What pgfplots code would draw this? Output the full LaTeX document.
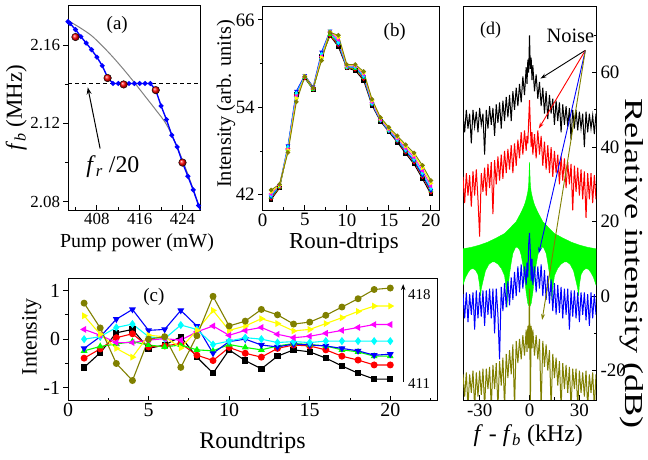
\documentclass[border=0pt]{standalone}
\usepackage{fontspec}
\setmainfont{Liberation Serif}
\usepackage{pgfplots}
\pgfplotsset{compat=1.18}
\usetikzlibrary{arrows.meta}
\definecolor{olivec}{RGB}{128,128,0}
\definecolor{mygreen}{RGB}{0,255,0}
\definecolor{mycyan}{RGB}{0,255,255}
\definecolor{mymag}{RGB}{255,0,255}
\definecolor{myyel}{RGB}{255,255,0}
\definecolor{myblue}{RGB}{0,0,255}
\definecolor{myred}{RGB}{255,0,0}
\newcommand{\fs}[1]{\fontsize{#1}{#1}\selectfont}
\pgfplotsset{
  base/.style={scale only axis, anchor=south west,
    axis line style={line width=0.9bp},
    xtick align=inside,
    xtick pos=bottom,
    major tick length=4.5bp, minor tick length=2.5bp,
    every tick/.style={black, line width=0.8bp},
    every minor tick/.style={black, line width=0.8bp}},
}
\begin{document}
\begin{tikzpicture}
\useasboundingbox (0,0) rectangle (648bp,460bp);
%================ (a)
\begin{axis}[base, at={(68bp,250bp)}, width=132.7bp, height=205bp,
  ytick pos=left, ytick align=outside,
  xmin=402.6, xmax=427.4, ymin=2.0757, ymax=2.1807,
  xtick={408,416,424}, xticklabels={408,416,424}, minor xtick={404,412,420},
  ytick={2.08,2.12,2.16}, yticklabels={2.08,2.12,2.16}, minor ytick={2.10,2.14},
  tick label style={font=\fs{17}},
  xlabel={Pump power (mW)},
  xlabel style={font=\fs{20}, at={(axis description cs:0.52,-0.16)}, anchor=center},
  ylabel={\textit{f}\textsubscript{\textit{b}} (MHz)},
  ylabel style={font=\fs{23}, at={(axis description cs:-0.39,0.5)}, anchor=center}]
\addplot[black, line width=1.1bp, dash pattern=on 4bp off 3bp] coordinates {(402.6,2.1405)(427.4,2.1405)};
\addplot[gray, line width=1bp, smooth] coordinates {
(403,2.1721)(405,2.1688)(407,2.1650)(409,2.1598)(411,2.1540)(413,2.1477)(415,2.1410)
(417,2.1340)(419,2.1270)(421,2.1195)(423,2.1080)(425,2.0940)(427,2.0785)};
\addplot[myblue, line width=1.4bp, mark=*, mark size=1.7bp, mark options={fill=myblue}] coordinates {
(402.6,2.1722)(403,2.1712)(404,2.1681)(405,2.1645)(406,2.1612)(407,2.1578)(408,2.1540)(409,2.1496)
(410,2.1436)(411,2.1405)(412,2.1405)(413,2.1405)(414,2.1405)(415,2.1405)(416,2.1405)
(417,2.1405)(418,2.1405)(419,2.1371)(420,2.1290)(421,2.1220)(422,2.1140)(423,2.1080)
(424,2.1000)(425,2.0930)(426,2.0860)(427,2.0780)(427.4,2.0752)};
\addplot[only marks, mark=ball, ball color=myred, mark size=3.8bp] coordinates {
(404,2.1643)(410,2.1433)(413,2.1400)(419,2.1371)(424,2.1000)};
\draw[-{Stealth[length=7bp,width=5bp]}, line width=1bp] (axis cs:408.6,2.1072) -- (axis cs:406.3,2.1385);
\node[font=\fs{24}] at (axis cs:411,2.0979) {\textit{f}\textsubscript{\textit{r}} /20};
\node[font=\fs{19}] at (axis cs:411.8,2.1703) {(a)};
\end{axis}
%================ (b)
\begin{axis}[base, at={(262.7bp,250bp)}, width=176.6bp, height=204bp,
  ytick pos=left, ytick align=outside,
  xmin=0, xmax=21, ymin=39.9, ymax=67.9,
  xtick={0,5,10,15,20}, xticklabels={0,5,10,15,20}, minor xtick={2.5,7.5,12.5,17.5},
  ytick={42,54,66}, yticklabels={42,54,66}, minor ytick={48,60},
  tick label style={font=\fs{19}},
  xlabel={Roun-dtrips},
  xlabel style={font=\fs{23}, at={(axis description cs:0.46,-0.162)}, anchor=center},
  ylabel={Intensity (arb. units)},
  ylabel style={font=\fs{20.5}, at={(axis description cs:-0.208,0.52)}, anchor=center},
  every axis plot/.append style={line width=0.9bp, mark size=1.8bp}]
\addplot[black, mark=square*] coordinates {(1,41.32)(2,42.92)(3,48.43)(4,55.80)(5,58.01)(6,56.48)(7,61.05)(8,63.83)(9,62.30)(10,59.38)(11,59.06)(12,57.69)(13,54.25)(14,52.08)(15,50.64)(16,49.21)(17,47.65)(18,46.20)(19,44.18)(20,42.08)};
\addplot[myred, mark=*] coordinates {(1,41.51)(2,43.00)(3,48.33)(4,55.71)(5,58.04)(6,56.46)(7,60.91)(8,63.87)(9,62.56)(10,59.43)(11,59.21)(12,57.93)(13,54.41)(14,52.18)(15,50.76)(16,49.38)(17,47.85)(18,46.47)(19,44.47)(20,42.37)};
\addplot[mygreen, mark=triangle*] coordinates {(1,41.66)(2,43.05)(3,48.20)(4,55.55)(5,58.08)(6,56.44)(7,60.88)(8,63.98)(9,62.76)(10,59.49)(11,59.33)(12,58.08)(13,54.46)(14,52.21)(15,50.79)(16,49.46)(17,47.98)(18,46.64)(19,44.65)(20,42.55)};
\addplot[myblue, mark=triangle*, mark options={rotate=180}] coordinates {(1,41.71)(2,43.25)(3,48.71)(4,56.21)(5,58.38)(6,56.80)(7,61.59)(8,64.47)(9,62.71)(10,59.55)(11,59.50)(12,58.18)(13,54.44)(14,52.20)(15,50.78)(16,49.46)(17,48.01)(18,46.66)(19,44.67)(20,42.59)};
\addplot[mycyan, mark=diamond*] coordinates {(1,41.90)(2,43.25)(3,48.54)(4,55.91)(5,58.25)(6,56.61)(7,61.29)(8,64.40)(9,62.89)(10,59.56)(11,59.53)(12,58.30)(13,54.53)(14,52.25)(15,50.83)(16,49.56)(17,48.16)(18,46.86)(19,44.96)(20,42.86)};
\addplot[mymag, mark=triangle*, mark options={rotate=90}] coordinates {(1,42.10)(2,43.28)(3,48.23)(4,55.53)(5,58.18)(6,56.61)(7,60.98)(8,64.35)(9,63.27)(10,59.68)(11,59.68)(12,58.54)(13,54.70)(14,52.33)(15,50.96)(16,49.72)(17,48.38)(18,47.14)(19,45.30)(20,43.20)};
\addplot[myyel, mark=triangle*, mark options={rotate=-90}] coordinates {(1,42.38)(2,43.30)(3,48.11)(4,55.23)(5,58.28)(6,56.65)(7,60.82)(8,64.38)(9,63.59)(10,59.78)(11,59.77)(12,58.72)(13,54.92)(14,52.47)(15,51.10)(16,49.92)(17,48.64)(18,47.47)(19,45.68)(20,43.58)};
\addplot[olivec, mark=*] coordinates {(1,42.64)(2,43.43)(3,47.80)(4,54.75)(5,58.20)(6,56.65)(7,60.42)(8,64.27)(9,63.88)(10,59.87)(11,59.87)(12,58.91)(13,55.10)(14,52.61)(15,51.25)(16,50.09)(17,48.86)(18,47.73)(19,46.02)(20,43.95)};
\node[font=\fs{19}] at (axis cs:15.7,64.4) {(b)};
\end{axis}
%================ (c)
\begin{axis}[base, at={(68bp,60bp)}, width=369bp, height=121.7bp,
  ytick pos=left, ytick align=outside,
  xmin=0, xmax=22.9, ymin=-1.25, ymax=1.25,
  xtick={0,5,10,15,20}, xticklabels={0,5,10,15,20}, minor xtick={2.5,7.5,12.5,17.5,22.5},
  ytick={-1,0,1}, yticklabels={-1,0,1}, minor ytick={-0.5,0.5},
  tick label style={font=\fs{20}},
  xlabel={Roundtrips},
  xlabel style={font=\fs{24}, at={(axis description cs:0.50,-0.35)}, anchor=center},
  ylabel={Intensity},
  ylabel style={font=\fs{22}, at={(axis description cs:-0.098,0.52)}, anchor=center},
  every axis plot/.append style={line width=1.1bp, mark size=2.9bp}]
\addplot[black, mark=square*, mark size=2.6bp] coordinates {(1,-0.58)(2,-0.28)(3,0.13)(4,0.20)(5,-0.19)(6,-0.12)(7,0.05)(8,-0.37)(9,-0.70)(10,-0.22)(11,-0.44)(12,-0.61)(13,-0.35)(14,-0.22)(15,-0.26)(16,-0.39)(17,-0.55)(18,-0.70)(19,-0.82)(20,-0.82)};
\addplot[myred, mark=*] coordinates {(1,-0.39)(2,-0.20)(3,0.03)(4,0.11)(5,-0.16)(6,-0.14)(7,-0.09)(8,-0.33)(9,-0.44)(10,-0.17)(11,-0.29)(12,-0.37)(13,-0.19)(14,-0.12)(15,-0.14)(16,-0.22)(17,-0.35)(18,-0.43)(19,-0.53)(20,-0.53)};
\addplot[mygreen, mark=triangle*] coordinates {(1,-0.24)(2,-0.15)(3,-0.10)(4,-0.05)(5,-0.12)(6,-0.16)(7,-0.12)(8,-0.22)(9,-0.24)(10,-0.11)(11,-0.17)(12,-0.22)(13,-0.14)(14,-0.09)(15,-0.11)(16,-0.14)(17,-0.22)(18,-0.26)(19,-0.35)(20,-0.35)};
\addplot[myblue, mark=triangle*, mark options={rotate=180}] coordinates {(1,-0.19)(2,0.05)(3,0.41)(4,0.61)(5,0.18)(6,0.20)(7,0.59)(8,0.27)(9,-0.29)(10,-0.05)(11,0.0)(12,-0.12)(13,-0.16)(14,-0.10)(15,-0.12)(16,-0.14)(17,-0.19)(18,-0.24)(19,-0.33)(20,-0.31)};
\addplot[mycyan, mark=diamond*, mark size=3.2bp] coordinates {(1,0.0)(2,0.05)(3,0.24)(4,0.31)(5,0.05)(6,0.01)(7,0.29)(8,0.20)(9,-0.11)(10,-0.04)(11,0.03)(12,0.0)(13,-0.07)(14,-0.05)(15,-0.07)(16,-0.04)(17,-0.04)(18,-0.04)(19,-0.04)(20,-0.04)};
\addplot[mymag, mark=triangle*, mark options={rotate=90}] coordinates {(1,0.20)(2,0.08)(3,-0.07)(4,-0.07)(5,-0.02)(6,0.01)(7,-0.02)(8,0.15)(9,0.27)(10,0.08)(11,0.18)(12,0.24)(13,0.10)(14,0.03)(15,0.06)(16,0.12)(17,0.18)(18,0.24)(19,0.30)(20,0.30)};
\addplot[myyel, mark=triangle*, mark options={rotate=-90}] coordinates {(1,0.48)(2,0.10)(3,-0.19)(4,-0.37)(5,0.08)(6,0.05)(7,-0.18)(8,0.18)(9,0.59)(10,0.18)(11,0.27)(12,0.42)(13,0.32)(14,0.17)(15,0.20)(16,0.32)(17,0.44)(18,0.57)(19,0.68)(20,0.68)};
\addplot[olivec, mark=*] coordinates {(1,0.74)(2,0.23)(3,-0.50)(4,-0.85)(5,0.0)(6,0.05)(7,-0.58)(8,0.07)(9,0.88)(10,0.27)(11,0.37)(12,0.61)(13,0.50)(14,0.31)(15,0.35)(16,0.49)(17,0.66)(18,0.83)(19,1.02)(20,1.05)};
\draw[-{Stealth[length=6bp,width=4.5bp]}, line width=1bp] (axis cs:20.8,-0.88) -- (axis cs:20.8,1.13);
\node[font=\fs{15}, anchor=west, inner sep=0pt] at (axis cs:21.1,0.91) {418};
\node[font=\fs{15}, anchor=west, inner sep=0pt] at (axis cs:21.1,-0.91) {411};
\node[font=\fs{19}] at (axis cs:5.33,0.87) {(c)};
\end{axis}
%================ (d)
\begin{axis}[base, at={(463bp,60bp)}, width=133bp, height=394bp,
  ytick pos=right, yticklabel pos=right, ytick align=inside,
  xmin=-40, xmax=40, ymin=-27.9, ymax=77.9,
  xtick={-30,0,30}, xticklabels={-30,0,30}, minor xtick={-15,15},
  ytick={-20,0,20,40,60}, yticklabels={-20,0,20,40,60}, minor ytick={-10,10,30,50,70},
  x tick label style={font=\fs{19}},
  y tick label style={font=\fs{19}, anchor=west, xshift=1bp},
  xlabel={\textit{f} - \textit{f}\textsubscript{\textit{b}} (kHz)},
  xlabel style={font=\fs{24}, at={(axis description cs:0.49,-0.091)}, anchor=center},
  ylabel={\scalebox{1.4}[1]{Relative intensity (dB)}},
  ylabel style={font=\fs{26}, at={(axis description cs:1.27,0.346)}, anchor=center, rotate=180},
  every axis plot/.append style={line width=1bp}]
\addplot[black] coordinates {(-40,49)(-39,44)(-38,50)(-37,45)(-36,49)(-35,41)(-34,50)(-33,45.5)(-32,49.5)(-31,44)(-30,50.5)(-29,46)(-28,49)(-27,38)(-26,50)(-25,45)(-24,51)(-23,46)(-22,50.5)(-21,43)(-20,51.5)(-19,46.5)(-18,52)(-17,45)(-16,52.5)(-15,47)(-14,53.5)(-13,48)(-12,54)(-11,47)(-10,55)(-9,50)(-8,56)(-7,51)(-6,57)(-5,52)(-4,59)(-3,54)(-2,61.5)(-1.5,57)(-1,63.5)(-0.5,60)(0,70)(0.5,61)(1,64)(1.5,58)(2,62)(3,55)(4,59.5)(5,53)(6,57.5)(7,51)(8,56)(9,49)(10,55)(11,47.5)(12,54)(13,49)(14,53)(15,46)(16,52.5)(17,47)(18,52)(19,44)(20,51.5)(21,46)(22,51)(23,45.5)(24,50.5)(25,42)(26,50)(27,45)(28,50)(29,44.5)(30,49.5)(31,45)(32,49)(33,40)(34,49.5)(35,44)(36,49)(37,45)(38,48.5)(39,43.5)(40,49)};
\addplot[myred] coordinates {(-40,32)(-39,25)(-38,33)(-37,27)(-36,32.5)(-35,24)(-34,33.5)(-33,27)(-32,34)(-31,26)(-30,16)(-29,33)(-28,28)(-27,34.5)(-26,27)(-25,35.5)(-24,29)(-23,36)(-22,22)(-21,36.5)(-20,30)(-19,37.5)(-18,31)(-17,38)(-16,31.5)(-15,39)(-14,33)(-13,39.5)(-12,34)(-11,40.5)(-10,33)(-9,41)(-8,35)(-7,42)(-6,37)(-5,44)(-4,38)(-3,44.5)(-2,39)(-1.5,43)(-1,41)(-0.5,47)(0,52.6)(0.5,46)(1,40)(1.5,44)(2,38)(3,43.5)(4,37)(5,44.5)(6,38)(7,43)(8,35)(9,41.5)(10,34)(11,40.5)(12,33)(13,40)(14,32)(15,39)(16,33)(17,38)(18,30)(19,37.5)(20,31)(21,37)(22,29)(23,36)(24,30)(25,35.5)(26,23)(27,35)(28,28)(29,34.5)(30,27)(31,34)(32,26)(33,33.5)(34,21)(35,33)(36,26)(37,33)(38,25)(39,32.5)(40,26)};
\addplot[mygreen, fill=mygreen, line width=0.4bp] coordinates {(-40,12.7)(-35,13.1)(-30,13.7)(-25,14.5)(-20,15.6)(-15,16.8)(-11,18.6)(-8,20)(-5,22.5)(-3,24.5)(-2,26)(-1,28)(-0.5,30)(0,36)(0.5,30)(1,28)(2,26)(3,24.5)(5,22.5)(8,20)(11,18.6)(15,16.8)(20,15.6)(25,14.5)(30,13.7)(35,13.1)(40,12.7)
(40,3)(38.5,5)(37,6.3)(35.5,7.2)(34,7.4)(32.5,7)(31,5.8)(30,3)(29.5,0)(29,2)(28,4)(26.5,6.8)(24.5,8.5)(22.5,9.2)(21,9.2)(19,8.6)(17,7.5)(15,5.5)(14,2)(13.5,-1)(13,2)(12,6)(11,9)(10,11.5)(8.5,13)(7.5,13.2)(6,12.5)(5,11)(4,8.5)(3,5)(2,1)(1,-2)(0,-3)(-1,-2)(-2,1)(-3,5)(-4,8.5)(-5,11)(-6,12.5)(-7.5,13.2)(-8.5,13)(-10,11.5)(-11,9)(-12,6)(-13,2)(-13.5,-3)(-14,2)(-15,5.5)(-17,7.5)(-19,8.6)(-21,9.2)(-22.5,9.2)(-24.5,8.5)(-26.5,6.8)(-28,4)(-29,2)(-29.5,0)(-30,3)(-31,5.8)(-32.5,7)(-34,7.4)(-35.5,7.2)(-37,6.3)(-38.5,5)(-40,3)} -- cycle;
\addplot[myblue] coordinates {(-40,0.5)(-39,-6)(-38,1)(-37,-7)(-36,0.5)(-35,-5)(-34,1)(-33,-9)(-32,1.5)(-31,-6)(-30,1)(-29,-5.5)(-28,1.5)(-27,-8)(-26,1.5)(-25,-5)(-24,2)(-23,-6)(-22,2)(-21,-10)(-20,2)(-19,-5)(-18,-17)(-17,2.5)(-16,-4)(-15,3.5)(-14,-3)(-13,4)(-12,-2.5)(-11,5)(-10,-1)(-9,6.5)(-8,0)(-7,8)(-6,1)(-5,8.5)(-4,2)(-3,8)(-2,3)(-1.5,9)(-1,5)(-0.5,14)(0,17)(0.5,12)(1,4)(1.5,10)(2,3)(3,8)(4,1)(5,8)(6,2)(7,8.5)(8,0)(9,7)(10,-1)(11,5.5)(12,-2)(13,4.5)(14,-4)(15,3.5)(16,-5)(17,3)(18,-4.5)(19,2.5)(20,-6)(21,2)(22,-5)(23,2)(24,-9)(25,1.5)(26,-5.5)(27,1.5)(28,-6)(29,1)(30,-7)(31,1)(32,-5)(33,1)(34,-6.5)(35,0.5)(36,-8)(37,1)(38,-6)(39,0.5)(40,-5)};
\addplot[olivec] coordinates {(-40,-21)(-39,-27)(-38,-20.5)(-37,-30)(-36,-21)(-35,-26)(-34,-20)(-33,-30)(-32,-20.5)(-31,-27)(-30,-20)(-29,-26.5)(-28,-19.5)(-27,-30)(-26,-19.5)(-25,-25)(-24,-19)(-23,-30)(-22,-18.5)(-21,-25)(-20,-18)(-19,-30)(-18,-17.5)(-17,-24)(-16,-16.5)(-15,-30)(-14,-15.5)(-13,-22)(-12,-14.5)(-11,-21)(-10,-13)(-9,-30)(-8,-12)(-7,-18)(-6,-11.5)(-5,-17)(-4,-10.5)(-3,-16)(-2,-9)(-1.5,-15)(-1,-8)(-0.5,-14)(0,2)(0.5,-30)(1,-8)(1.5,-14)(2,-9)(3,-16)(4,-10.5)(5,-17)(6,-11.5)(7,-30)(8,-12)(9,-19)(10,-13)(11,-20)(12,-14.5)(13,-30)(14,-15.5)(15,-22)(16,-16.5)(17,-24)(18,-17.5)(19,-30)(20,-18)(21,-25)(22,-18.5)(23,-26)(24,-19)(25,-30)(26,-19.5)(27,-25)(28,-19.5)(29,-30)(30,-20)(31,-26)(32,-20.5)(33,-27)(34,-20)(35,-30)(36,-21)(37,-26)(38,-20.5)(39,-30)(40,-21)};
\draw[-{Stealth[length=6bp,width=4bp]}, line width=0.9bp, black] (axis cs:33.6,66) -- (axis cs:6.6,58.4);
\draw[-{Stealth[length=6bp,width=4bp]}, line width=0.9bp, myred] (axis cs:33.6,66) -- (axis cs:5.6,45);
\draw[-{Stealth[length=6bp,width=4bp]}, line width=0.9bp, myblue] (axis cs:33.6,66) -- (axis cs:5.6,11.5);
\draw[-{Stealth[length=6bp,width=4bp]}, line width=0.9bp, olivec] (axis cs:33.6,66) -- (axis cs:7.6,-6.4);
\node[font=\fs{20.5}] at (axis cs:24.6,69.8) {Noise};
\node[font=\fs{18}] at (axis cs:-23.4,71.4) {(d)};
\end{axis}
\end{tikzpicture}
\end{document}
